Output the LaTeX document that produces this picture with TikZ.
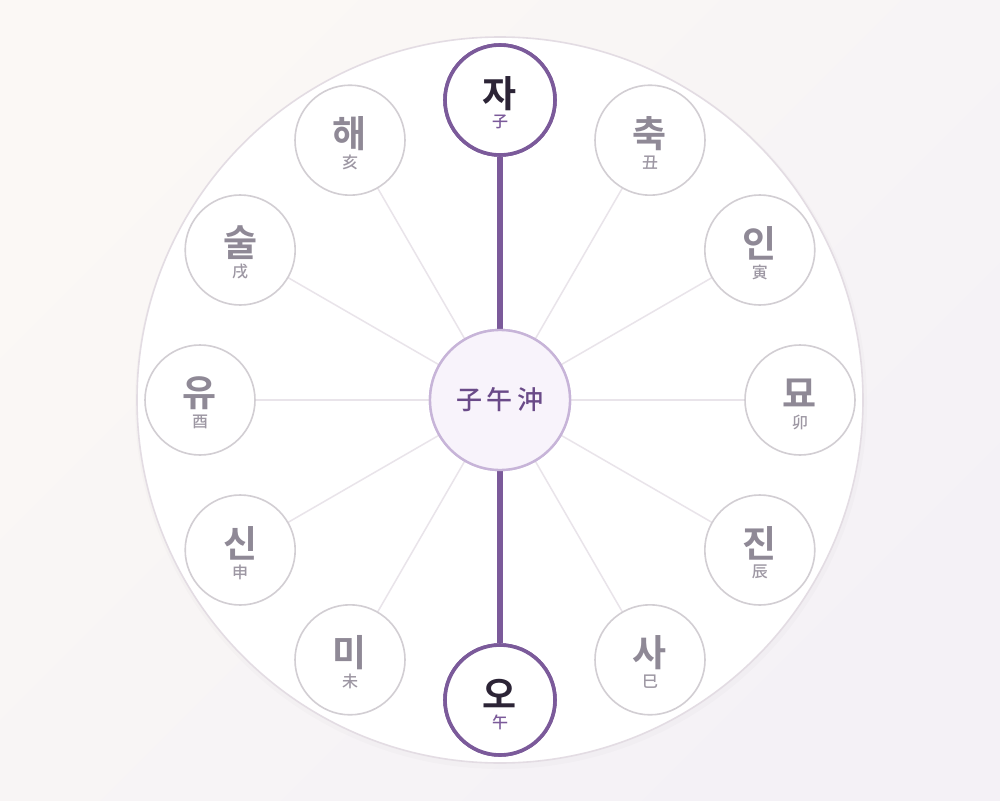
\documentclass[tikz,border=0pt]{standalone}
\usepackage{fontspec}
\newfontfamily\kr{Noto Sans CJK KR Medium}
\newfontfamily\krb{Noto Sans CJK KR Bold}
\usetikzlibrary{shadings,calc}
\definecolor{bgA}{HTML}{FBF8F5}
\definecolor{bgB}{HTML}{F4F1F6}
\definecolor{ring}{HTML}{E3DCE3}
\definecolor{spoke}{HTML}{E9E4EA}
\definecolor{nodeborder}{HTML}{D2CED3}
\definecolor{nodetext}{HTML}{8F8996}
\definecolor{hanjatext}{HTML}{9D97A3}
\definecolor{hl}{HTML}{7B5A9A}
\definecolor{hltext}{HTML}{2C2436}
\definecolor{ctrfill}{HTML}{F8F3FB}
\definecolor{ctrborder}{HTML}{C7B4D8}
\definecolor{ctrtext}{HTML}{6A4A88}
\tikzset{
  branch/.style={circle, minimum size=110pt, inner sep=0pt, draw=nodeborder, line width=1.6pt, fill=white},
  hlbranch/.style={circle, minimum size=110pt, inner sep=0pt, draw=hl, line width=3.6pt, fill=white},
  center/.style={circle, minimum size=140pt, inner sep=0pt, draw=ctrborder, line width=2.4pt, fill=ctrfill},
  spokeline/.style={draw=spoke, line width=1.5pt},
  clashline/.style={draw=hl, line width=6.5pt},
  krtxt/.style={font=\krb\fontsize{37}{40}\selectfont, text=nodetext, inner sep=0pt},
  hjtxt/.style={font=\kr\fontsize{16}{18}\selectfont, text=hanjatext, inner sep=0pt},
  krhl/.style={font=\krb\fontsize{37}{40}\selectfont, text=hltext, inner sep=0pt},
  hjhl/.style={font=\kr\fontsize{16}{18}\selectfont, text=hl, inner sep=0pt},
}
\begin{document}
\begin{tikzpicture}[x=1pt,y=-1pt]
\shade[left color=bgA, right color=bgB, shading angle=45] (0,0) rectangle (1000,800);
\useasboundingbox (0,0) rectangle (1000,800);
\fill[black, opacity=0.015] (501,403) circle (366);
\draw[ring, line width=1.6pt, fill=white] (500,400) circle (363);
\coordinate (c) at (500,400);
% spokes
\foreach \n/\a in {b1/60, b2/30, b3/0, b4/-30, b5/-60, b7/-120, b8/-150, b9/180, b10/150, b11/120}{
  \coordinate (\n) at ($(c)+(\a:300 and -300)$);
}
\foreach \n in {b1,b2,b3,b4,b5,b7,b8,b9,b10,b11}{
  \draw[spokeline] (c) -- (\n);
}
\coordinate (b0) at (500,100);
\coordinate (b6) at (500,700);
% branch nodes
\foreach \n/\k/\h in {b1/축/丑, b2/인/寅, b3/묘/卯, b4/진/辰, b5/사/巳, b7/미/未, b8/신/申, b9/유/酉, b10/술/戌, b11/해/亥}{
  \node[branch] (n\n) at (\n) {};
  \node[krtxt] (k\n) at ($(\n)+(0,-7)$) {\k};
  \node[hjtxt] (h\n) at ($(\n)+(0,22)$) {\h};
}
\node[hlbranch] (nb0) at (b0) {};
\node[hlbranch] (nb6) at (b6) {};
\node[center] (ctr) at (c) {};
\draw[clashline] (nb0.south) -- (ctr.north);
\draw[clashline] (nb6.north) -- (ctr.south);
\node[hlbranch] at (b0) {};
\node[hlbranch] at (b6) {};
\node[center] at (c) {};
\node[font=\kr\fontsize{26}{28}\selectfont, text=ctrtext] (ct) at (c) {子\hspace{5pt}午\hspace{5pt}沖};
\node[krhl] (kb0) at ($(b0)+(0,-6)$) {자};
\node[hjhl] (hb0) at ($(b0)+(0,22)$) {子};
\node[krhl] (kb6) at ($(b6)+(0,-6)$) {오};
\node[hjhl] (hb6) at ($(b6)+(0,22)$) {午};
\end{tikzpicture}
\end{document}
